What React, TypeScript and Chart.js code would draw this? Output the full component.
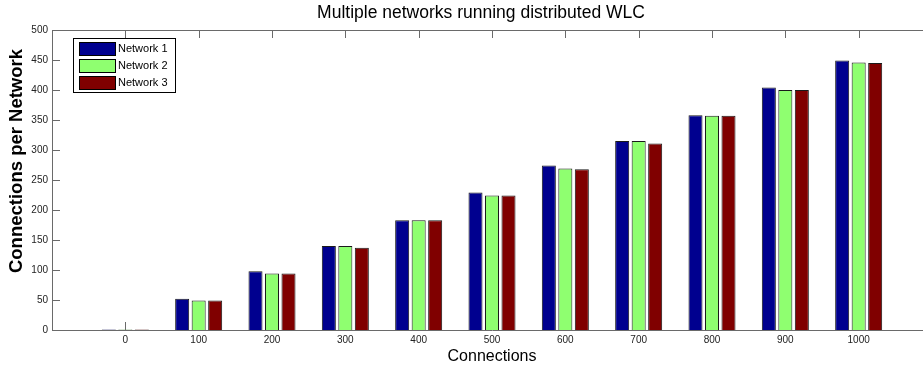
import React, { useEffect, useRef } from "react";
import { Chart, registerables } from "chart.js";

Chart.register(...registerables);

const categories = [0, 100, 200, 300, 400, 500, 600, 700, 800, 900, 1000];
const network1 = [1, 52, 98, 140, 183, 229, 274, 315, 358, 404, 449];
const network2 = [1, 49, 94, 140, 183, 224, 269, 315, 357, 400, 446];
const network3 = [1, 49, 94, 137, 183, 224, 268, 311, 357, 400, 445];
const seriesNames = ["Network 1", "Network 2", "Network 3"];
const seriesColors = ["#00008F", "#8FFF70", "#800000"];
const xTicks = [0, 100, 200, 300, 400, 500, 600, 700, 800, 900, 1000];
const yTicks = [0, 50, 100, 150, 200, 250, 300, 350, 400, 450, 500];
const titleText = "Multiple networks running distributed WLC";
const xTitle = "Connections";
const yTitle = "Connections per Network";

const FONT = "'Liberation Sans', Arial, Helvetica, sans-serif";

const framePlugin = {
  id: "matlabFrame",
  beforeDatasetsDraw(chart: any) {
    const { ctx, chartArea } = chart;
    const { left, right, top, bottom } = chartArea;
    const xs = chart.scales.x;
    const ys = chart.scales.y;
    ctx.save();
    ctx.strokeStyle = "#6a6a6a";
    ctx.lineWidth = 1;
    const tl = 8;
    ctx.beginPath();
    xTicks.forEach((v) => {
      const px = Math.round(xs.getPixelForValue(v)) + 0.5;
      ctx.moveTo(px, bottom);
      ctx.lineTo(px, bottom - tl);
      ctx.moveTo(px, top);
      ctx.lineTo(px, top + tl);
    });
    yTicks.forEach((v) => {
      const py = Math.round(ys.getPixelForValue(v)) + 0.5;
      ctx.moveTo(left, py);
      ctx.lineTo(left + tl, py);
      ctx.moveTo(right, py);
      ctx.lineTo(right - tl, py);
    });
    ctx.stroke();
    ctx.restore();
  },
  afterDraw(chart: any) {
    const { ctx, chartArea } = chart;
    const { left, right, top, bottom } = chartArea;
    ctx.save();
    ctx.strokeStyle = "#6a6a6a";
    ctx.lineWidth = 1;
    ctx.beginPath();
    ctx.moveTo(left + 0.5, top + 0.5);
    ctx.lineTo(right + 0.5, top + 0.5);
    ctx.lineTo(right + 0.5, bottom + 0.5);
    ctx.lineTo(left + 0.5, bottom + 0.5);
    ctx.closePath();
    ctx.stroke();

    // titles
    ctx.fillStyle = "#000";
    ctx.textAlign = "center";
    ctx.textBaseline = "middle";
    ctx.font = `17.5px ${FONT}`;
    ctx.fillText(titleText, 481, 13);
    ctx.font = `16px ${FONT}`;
    ctx.fillText(xTitle, (left + right) / 2, 357);
    ctx.save();
    ctx.translate(17, 161);
    ctx.rotate(-Math.PI / 2);
    ctx.font = `bold 18.5px ${FONT}`;
    ctx.fillText(yTitle, 0, 0);
    ctx.restore();

    // legend
    const lx = 73, ly = 38, lw = 102, lh = 54;
    ctx.fillStyle = "#fff";
    ctx.fillRect(lx, ly, lw, lh);
    ctx.strokeStyle = "#000";
    ctx.strokeRect(lx + 0.5, ly + 0.5, lw, lh);
    ctx.font = `11px ${FONT}`;
    ctx.textAlign = "left";
    chart.data.datasets.forEach((ds: any, i: number) => {
      const sy = 42 + i * 17;
      ctx.fillStyle = ds.backgroundColor;
      ctx.fillRect(79, sy, 36, 13);
      ctx.strokeStyle = "#000";
      ctx.strokeRect(79.5, sy + 0.5, 36, 13);
      ctx.fillStyle = "#000";
      ctx.fillText(ds.label, 118, sy + 7);
    });
    ctx.restore();
  },
};

export default function App() {
  const ref = useRef<HTMLCanvasElement | null>(null);
  useEffect(() => {
    if (!ref.current) return;
    const seriesData = [network1, network2, network3];
    const chart = new Chart(ref.current, {
      type: "bar",
      data: {
        datasets: seriesData.map((arr, i) => ({
          label: seriesNames[i],
          data: categories.map((c, j) => ({ x: c, y: arr[j] })),
          backgroundColor: seriesColors[i],
          borderColor: "#1a1a1a",
          borderWidth: 1,
          categoryPercentage: 0.675,
          barPercentage: 0.85,
        })),
      },
      options: {
        animation: false,
        responsive: false,
        maintainAspectRatio: false,
        layout: { padding: { top: 30, right: 3, left: 0, bottom: 0 } },
        plugins: { legend: { display: false }, title: { display: false }, tooltip: { enabled: false } },
        scales: {
          x: {
            type: "linear",
            min: -100,
            max: 1100,
            offset: false,
            grid: { display: false, drawTicks: false },
            border: { display: false },
            afterBuildTicks: (scale: any) => {
              scale.ticks = xTicks.map((v) => ({ value: v }));
            },
            afterFit: (scale: any) => {
              scale.height = 37;
            },
            ticks: {
              padding: 4,
              color: "#222",
              font: { family: FONT, size: 10 },
              callback: (v: any) => String(v),
            },
          },
          y: {
            min: 0,
            max: 500,
            grid: { display: false, drawTicks: false },
            border: { display: false },
            afterBuildTicks: (scale: any) => {
              scale.ticks = yTicks.map((v) => ({ value: v }));
            },
            afterFit: (scale: any) => {
              scale.width = 52;
            },
            ticks: {
              padding: 4,
              color: "#222",
              font: { family: FONT, size: 10 },
              callback: (v: any) => String(v),
            },
          },
        },
      },
      plugins: [framePlugin],
    });
    return () => chart.destroy();
  }, []);
  return (
    <div style={{ position: "fixed", left: 0, top: 0, width: 923, height: 367, overflow: "hidden", background: "#fff" }}>
      <canvas ref={ref} width={935} height={367} style={{ display: "block", width: 935, height: 367 }} />
    </div>
  );
}
